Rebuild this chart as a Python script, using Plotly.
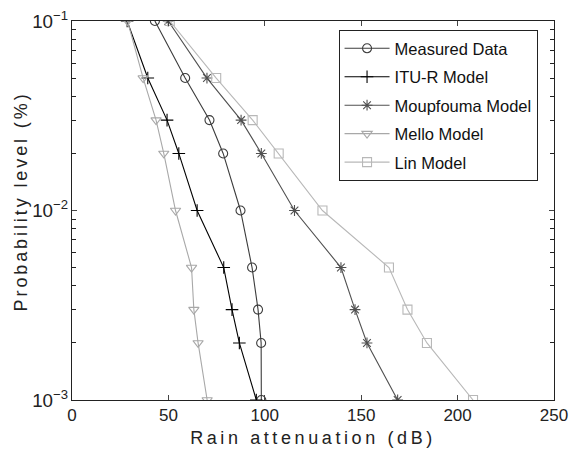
import plotly.graph_objects as go

prob = [0.1, 0.05, 0.03, 0.02, 0.01, 0.005, 0.003, 0.002, 0.001]
measured = [43, 58.7, 71.3, 78.4, 87.4, 93.4, 96.5, 98.1, 98.2]
itu_r = [28.6, 39.3, 49.3, 55.4, 64.9, 78.7, 83.0, 86.8, 95.6]
moupfouma = [49.9, 70.0, 87.7, 98.2, 115.4, 139.5, 146.8, 153.0, 168.9]
mello = [28.8, 36.9, 43.6, 47.6, 53.7, 62.0, 63.2, 65.4, 70.1]
lin = [50.7, 74.8, 93.7, 107.2, 129.9, 164.4, 174.0, 184.1, 208.0]

x_ticks = [0, 50, 100, 150, 200, 250]

FONT = "Liberation Sans, Arial, sans-serif"

series = [
    ("Measured Data", measured, "#3c3c3c", "circle-open"),
    ("ITU-R Model", itu_r, "#000000", "cross-thin-open"),
    ("Moupfouma Model", moupfouma, "#505050", "asterisk-open"),
    ("Mello Model", mello, "#a8a8a8", "triangle-down-open"),
    ("Lin Model", lin, "#b8b8b8", "square-open"),
]

fig = go.Figure()
for i, (name, xs, col, sym) in enumerate(series):
    fig.add_trace(go.Scatter(
        x=xs, y=prob, name=name, mode="lines+markers", legendgroup=f"g{i}",
        line=dict(color=col, width=1.1),
        marker=dict(symbol=sym, size=9, color=col, line=dict(color=col, width=1.1)),
    ))

fig.update_layout(
    width=570, height=457,
    margin=dict(l=72, r=16, t=21, b=57),
    paper_bgcolor="white", plot_bgcolor="white",
    font=dict(family=FONT, size=17, color="#222"),
    showlegend=True,
    legend=dict(
        x=0.553, y=0.976, xanchor="left", yanchor="top",
        bordercolor="#222", borderwidth=1, bgcolor="white",
        font=dict(family=FONT, size=16.5, color="#111"),
        itemwidth=45, tracegroupgap=4,
    ),
    annotations=[dict(
        text='<span style="letter-spacing:2.9px">Probability level (%)</span>',
        xref="paper", yref="paper", x=-0.105, y=0.525,
        xanchor="center", yanchor="middle", textangle=-90, showarrow=False,
        font=dict(family=FONT, size=18, color="#222"),
    )],
)
fig.update_xaxes(
    range=[0, 250], tickvals=x_ticks, ticks="inside", ticklen=5,
    showline=True, linecolor="#222", linewidth=1, mirror="ticks",
    showgrid=False, zeroline=False, automargin=False,
    tickfont=dict(family=FONT, size=17, color="#222"),
    title=dict(text='<span style="letter-spacing:3.6px">Rain attenuation (dB)</span>',
               font=dict(family=FONT, size=18, color="#222"), standoff=6),
)
fig.update_yaxes(
    type="log", range=[-3, -1], dtick=1, exponentformat="power",
    ticks="inside", ticklen=5, automargin=False,
    minor=dict(ticks="inside", ticklen=4, dtick="D1", showgrid=False, tickcolor="#222"),
    showline=True, linecolor="#222", linewidth=1, mirror="ticks",
    showgrid=False, zeroline=False,
    tickfont=dict(family=FONT, size=15, color="#222"),
)

fig.write_html("out.html")
